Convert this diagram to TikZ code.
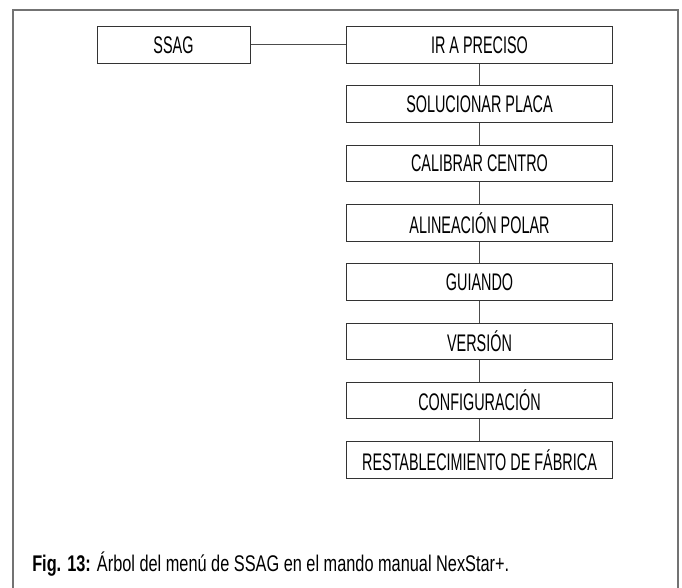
\documentclass[tikz,border=0pt]{standalone}
\usepackage{fontspec}
\newfontfamily\condfont{Liberation Sans}[FakeStretch=0.6]
\newfontfamily\capfont{Liberation Sans}[FakeStretch=0.72]
\usetikzlibrary{positioning}

\begin{document}
\begin{tikzpicture}[
  x=0.75pt, y=-0.75pt,
  font=\condfont\fontsize{18}{20}\selectfont,
  menubox/.style={draw=black!80, line width=0.75pt, minimum height=27.5pt, minimum width=200pt, inner sep=0pt},
  link/.style={draw=black!70, line width=0.75pt},
  frame/.style={draw=black!55, line width=1.1pt},
  node distance=16.2pt
]
\useasboundingbox (0,0) rectangle (682,588);

% outer frame, open at the bottom
\draw[frame] (13,588) -- (13,10) -- (678,10) -- (678,588);

% menu tree
\node[menubox, minimum width=114.75pt] (ssag) at (173.5,45) {SSAG};
\node[menubox] (ir) at (479.5,45) {IR A PRECISO};
\node[menubox, below=of ir] (placa) {SOLUCIONAR PLACA};
\node[menubox, below=of placa] (centro) {CALIBRAR CENTRO};
\node[menubox, below=of centro] (polar) {ALINEACIÓN POLAR};
\node[menubox, below=of polar] (guiando) {GUIANDO};
\node[menubox, below=of guiando] (version) {VERSIÓN};
\node[menubox, below=of version] (config) {CONFIGURACIÓN};
\node[menubox, below=of config] (fabrica) {RESTABLECIMIENTO DE FÁBRICA};

\draw[link] (ssag) -- (ir);
\foreach \a/\b in {ir/placa, placa/centro, centro/polar, polar/guiando,
                   guiando/version, version/config, config/fabrica}
  \draw[link] (\a.south) -- (\b.north);

% caption
\node[anchor=base west, inner sep=0pt, font=\capfont\fontsize{17}{19}\selectfont] (caption) at (32,571)
  {\textbf{Fig. 13:} Árbol del menú de SSAG en el mando manual NexStar+.};

\end{tikzpicture}
\end{document}
